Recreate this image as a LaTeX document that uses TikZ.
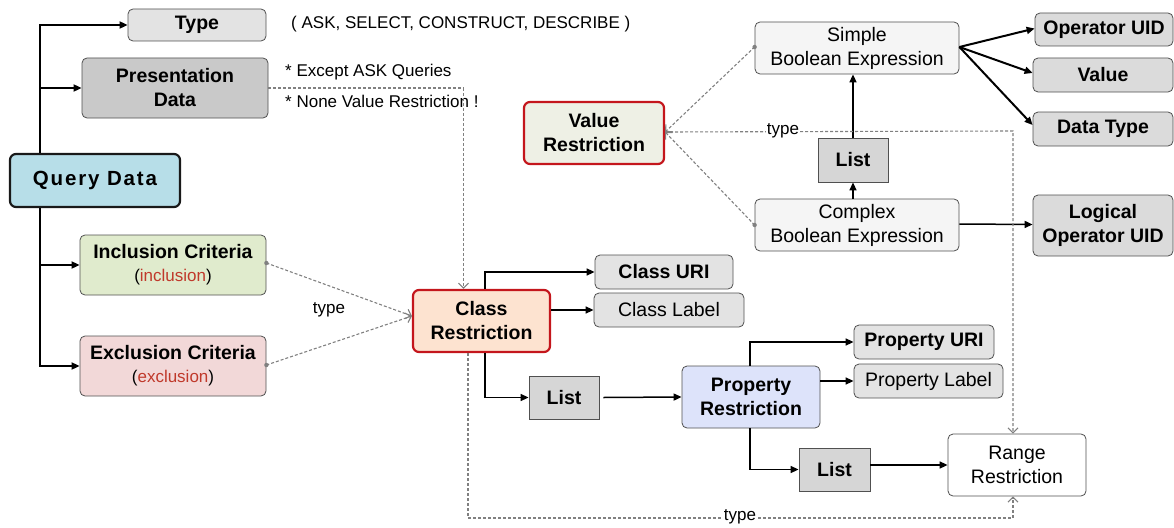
\documentclass[tikz,border=0pt]{standalone}
\usepackage{fontspec}
\setmainfont{Liberation Sans}
\usetikzlibrary{arrows.meta}

\definecolor{edge}{HTML}{505050}
\definecolor{keyred}{HTML}{C4161C}
\definecolor{critred}{HTML}{C0392B}
\definecolor{dashgray}{HTML}{808080}
\definecolor{qdblue}{HTML}{B7DEE8}
\definecolor{inclgreen}{HTML}{E0EBCD}
\definecolor{exclpink}{HTML}{F2D8D8}
\definecolor{crorange}{HTML}{FDE3D0}
\definecolor{prblue}{HTML}{DDE3FA}
\definecolor{vrpale}{HTML}{EEF0E5}

\newcommand\bxfont{\fontsize{19.5}{24}\selectfont}
\newcommand\notefont{\fontsize{17}{20}\selectfont}
\newcommand\subfont{\fontsize{17}{20}\selectfont}

\tikzset{
  base/.style={draw=edge, line width=0.8pt, rounded corners=5pt, inner sep=0pt,
               align=center, font=\bxfont, text=black},
  lightbox/.style={base, fill=black!11},
  darkbox/.style={base, fill=black!21},
  opbox/.style={base, fill=black!14},
  exprbox/.style={base, fill=black!4},
  listbox/.style={base, rounded corners=0pt, fill=black!16},
  keybox/.style={base, draw=keyred, line width=2.2pt, rounded corners=6pt},
  plainbox/.style={base, fill=white},
  arr/.style={draw=black, line width=1.5pt, arrows={-Triangle[length=8pt,width=7pt]}},
  heavyarr/.style={arr, line width=2pt},
  typeline/.style={draw=dashgray, line width=1.1pt, dash pattern=on 3pt off 2pt},
  typearr/.style={typeline, arrows={-Straight Barb[length=5pt,width=10pt]}},
  startdot/.style={fill=dashgray},
  lbl/.style={font=\notefont, inner sep=1pt, text=black},
}

\begin{document}
\begin{tikzpicture}[x=1pt,y=-1pt]
\useasboundingbox (0,0) rectangle (1174,527);

% ---- query data and its parts
\node[base, fill=qdblue, draw=black!90, line width=2.2pt, rounded corners=6pt,
      minimum width=170pt, minimum height=53pt,
      font={\fontsize{20.5}{24}\selectfont\addfontfeature{LetterSpace=9}\bfseries}]
      (qd) at (95,180.5) {Query Data};
\node[lightbox, minimum width=138pt, minimum height=32pt] (type) at (197,25) {\textbf{Type}};
\node[darkbox, minimum width=186pt, minimum height=60pt] (pres) at (175,88)
      {\textbf{Presentation}\\\textbf{Data}};
\node[base, fill=inclgreen, minimum width=186pt, minimum height=60pt] (incl) at (173,265)
      {\textbf{Inclusion Criteria}\\[-1pt]{\subfont(\textcolor{critred}{inclusion})}};
\node[base, fill=exclpink, minimum width=186pt, minimum height=60pt] (excl) at (173,366)
      {\textbf{Exclusion Criteria}\\[-1pt]{\subfont(\textcolor{critred}{exclusion})}};

\node[lbl, anchor=west] (typelist) at (290,24) {( ASK, SELECT, CONSTRUCT, DESCRIBE )};
\node[lbl, anchor=west] (note1) at (284,72) {* Except ASK Queries};
\node[lbl, anchor=west] (note2) at (284,101) {* None Value Restriction !};

% ---- class restriction
\node[keybox, fill=crorange, minimum width=137pt, minimum height=62pt] (cr) at (481.5,321)
      {\textbf{Class}\\\textbf{Restriction}};
\node[lightbox, minimum width=138pt, minimum height=34pt] (curi) at (664,272) {\textbf{Class URI}};
\node[lightbox, minimum width=150pt, minimum height=34pt] (clabel) at (669,310) {Class Label};
\node[listbox, minimum width=70pt, minimum height=43pt] (list1) at (564,397.5) {\textbf{List}};

% ---- property restriction
\node[base, fill=prblue, minimum width=138pt, minimum height=62pt] (pr) at (751,397)
      {\textbf{Property}\\\textbf{Restriction}};
\node[lightbox, minimum width=140pt, minimum height=34pt] (puri) at (924,342) {\textbf{Property URI}};
\node[lightbox, minimum width=149pt, minimum height=34pt] (plabel) at (928.5,381) {Property Label};
\node[listbox, minimum width=71pt, minimum height=43pt] (list2) at (834.5,469.5) {\textbf{List}};
\node[plainbox, minimum width=138pt, minimum height=62pt] (rr) at (1017,465)
      {Range\\Restriction};

% ---- value restriction
\node[keybox, fill=vrpale, minimum width=140pt, minimum height=62pt] (vr) at (594,133)
      {\textbf{Value}\\\textbf{Restriction}};
\node[exprbox, minimum width=204pt, minimum height=52pt] (sbe) at (857,48)
      {Simple\\Boolean Expression};
\node[exprbox, minimum width=204pt, minimum height=52pt] (cbe) at (857,225)
      {Complex\\Boolean Expression};
\node[listbox, minimum width=70pt, minimum height=44pt] (list3) at (853,160) {\textbf{List}};
\node[opbox, minimum width=138pt, minimum height=33pt] (opuid) at (1104,29.5) {\textbf{Operator UID}};
\node[opbox, minimum width=140pt, minimum height=34pt] (value) at (1103,75) {\textbf{Value}};
\node[opbox, minimum width=140pt, minimum height=34pt] (dtype) at (1103,129) {\textbf{Data Type}};
\node[opbox, minimum width=140pt, minimum height=61pt] (louid) at (1103,225.5)
      {\textbf{Logical}\\\textbf{Operator UID}};

% ---- solid connectors
\coordinate (trunk) at (40,0);
\draw[arr, line width=1.8pt] (qd.north -| trunk) |- (type.west);
\draw[arr, line width=1.8pt] (qd.north -| trunk) |- (pres.west);
\draw[arr, line width=1.8pt] (qd.south -| trunk) |- (incl.west);
\draw[arr, line width=1.8pt] (qd.south -| trunk) |- (excl.west);

\draw[arr] ([xshift=3.5pt]cr.north) |- (curi.west);
\draw[arr] (cr.east |- clabel.west) -- (clabel.west);
\draw[arr] ([xshift=3.5pt]cr.south) |- (list1.west);
\draw[arr] ([xshift=4pt]list1.east) -- (pr.west);
\draw[arr] ([xshift=-1pt]pr.north) |- (puri.west);
\draw[arr] (pr.east |- plabel.west) -- (plabel.west);
\draw[arr] ([xshift=-1pt]pr.south) |- (list2.west);
\draw[arr] (list2.east |- rr.west) -- (rr.west);

\draw[arr] (list3.north) -- (sbe.south -| list3.north);
\draw[arr] (cbe.north -| list3.south) -- (list3.south);
\draw[heavyarr] ([yshift=1pt]sbe.east) -- ([yshift=1pt]opuid.west);
\draw[heavyarr] ([yshift=1pt]sbe.east) -- ([yshift=2pt]value.west);
\draw[heavyarr] ([yshift=1pt]sbe.east) -- ([yshift=4pt]dtype.west);
\draw[arr] ([yshift=1pt]cbe.east) -- ([yshift=1pt]louid.west);

% ---- "type" connectors, each starting from a small dot
\coordinate (inclout) at ([yshift=2pt]incl.east);
\coordinate (exclout) at ([yshift=1pt]excl.east);
\coordinate (sbeout) at ([yshift=1pt]sbe.west);
\coordinate (cbeout) at (cbe.west);

\draw[typearr] (inclout) -- ([yshift=5pt]cr.west);
\draw[typearr] (exclout) -- ([yshift=5pt]cr.west);
\node[lbl] (typeA) at (329,310) {type};

\draw[typearr] (pres.east) -| ([xshift=-18pt]cr.north);

\draw[typearr] (sbeout) -- ([yshift=1pt]vr.east);
\draw[typearr] (cbeout) -- ([yshift=1pt]vr.east);

\foreach \p in {inclout, exclout, sbeout, cbeout}
  \fill[startdot] (\p) circle (2.2pt);

\coordinate (rrtop) at (1013,131);
\draw[typearr] ([yshift=1pt]vr.east) -- (rrtop) -- (rr.north -| rrtop);
\node[lbl, fill=white, inner sep=0.5pt] (typeB) at (783,131) {type};

\coordinate (rrbot) at (1013,518);
\draw[typearr] ([xshift=-13.5pt]cr.south) |- (rrbot) -- (rr.south -| rrbot);
\node[lbl, fill=white, inner sep=0.5pt] (typeC) at (740,517) {type};

\end{tikzpicture}
\end{document}
